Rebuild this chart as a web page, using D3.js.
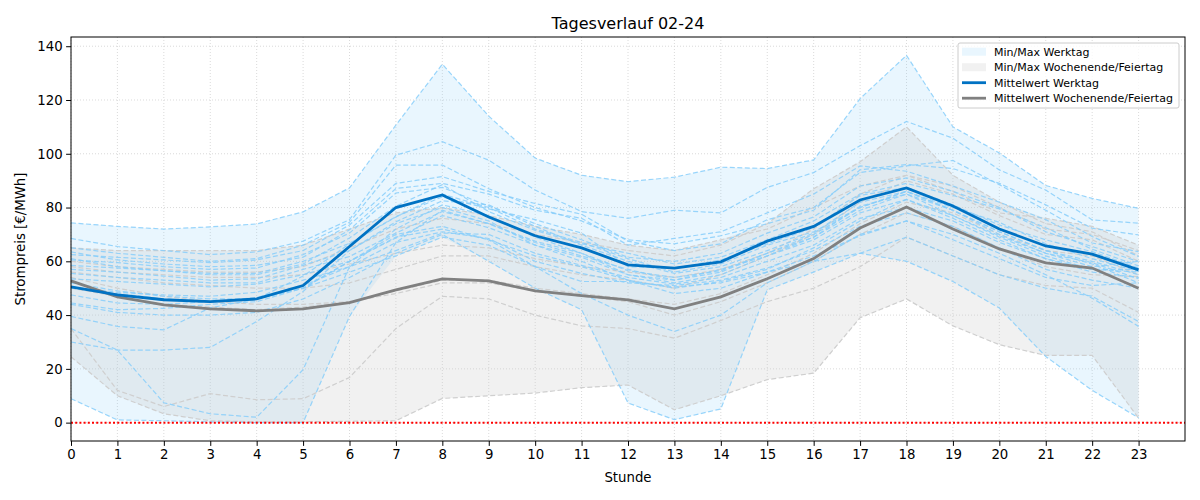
<!DOCTYPE html>
<html>
<head>
<meta charset="utf-8">
<script src="https://cdn.jsdelivr.net/npm/d3@7"></script>
<style>
  body { margin: 0; background: #fff; }
  svg { font-family: "DejaVu Sans", sans-serif; }
</style>
</head>
<body>
<div id="chart"></div>
<script>
// Stunden 0..23
const stunden = d3.range(24);

// Einzelne Werktage (Strompreis €/MWh je Stunde)
const werktage = [
  [74.3,73,72,72.8,73.9,78.4,87.3,110.7,133.3,114,98.4,92,89.6,91.3,95,94.5,97.7,120.5,136.6,110,100.3,88.2,83.4,79.7],
  [68.5,65.5,64,62.5,63.5,67.5,75.5,99.5,104.5,97.6,86.5,78.5,76,79,78,87.5,93,103,112,105.8,94,86.5,75.4,74.2],
  [65,63,61.5,60,61,66,74.5,95.8,95.8,87,80,75,68,66.5,69.5,74,79,94,96,94.5,89,81,72.3,69.8],
  [62.5,61.5,60.5,59.5,60.5,64,73.5,89,91.5,86,81.5,77.5,67.5,64,66.5,75.5,80,93,95.5,97.5,88.5,79,69.2,61.8],
  [63.5,60.5,59,58,58.5,61.5,71.7,87.1,89,85,79,76,66,68.5,71,78,85,95.5,93.5,88,82,75.5,66.8,63.6],
  [60.5,59.5,58,57,57.5,62.5,70.5,85.4,87.5,80.5,74,68,61.5,60,63,70.5,76.5,88,91,86,80,71,65.5,59.9],
  [61,58,56.5,55,55,59,68.7,80.5,88.5,78.5,71.5,66.5,63,59,61.5,68,75,85,89,84.5,79.5,72.5,64.5,58.3],
  [58.5,57.5,56.5,55.5,55.5,60,66.7,76.6,84,79.5,75.5,70.5,58,57.5,60.5,66.5,72.5,84.5,87.5,81,73.5,68,63.6,57.5],
  [57,56,54.5,53,53.5,58.5,64,74.7,82.5,81,73,66,60,55.5,58,64,70.5,82,86,80,74.5,66.5,61,56.2],
  [55.5,54,53,52,52,57,61.8,70.5,78.5,74,67.5,63,56.5,54,56.5,63,69,80.5,85,79,71,64,60,55],
  [53.5,52.5,51.5,50.5,51.5,55,60,68.7,77,72.5,66,61.5,55,53,57,62,68,78,83,77,69.5,63,59.5,53.5],
  [50.5,48.5,47.5,47,48.5,53,58,64,70.5,70,63,58.5,54,51.5,54,60,66,76,80,75,67,61,57,56],
  [47.5,44.5,44,45,46.5,51,58,67,71,68.5,60,55.5,52,51,53,57.5,64,73,78,73,65,57,53,50],
  [44.5,42,42.5,44,45,50,56,62,69,66,58,52.5,52.5,50.5,52,56,62,69.5,75,68,61,54,51,52],
  [39.5,35.8,34.5,42.7,46,54.5,66.5,76.5,85,80,72,67,61,56,59,66,71,80,86,79,71,64,59,52],
  [30,27,27,28,37.6,48.8,64,74,80,75,66,60,53,50,52.5,57,65,75,83,76,68,61,56,54],
  [35,27,7.4,3.3,2,19.7,58,72,81,77,69,63,55,52,55,62,69,79,85,77,69,62,57,57],
  [8.9,1,0.7,0.3,0,0,39.5,67,79,74,67,62,57,53,56,63,70,80,86,79,70,63,58,60],
  [44,41,40,40,41,46,54,63,70,60,50,42,7.3,1.1,5.1,49.4,56,63,69,62,55,50,47,37.6],
  [50,48,46,45,46,50,60,69,72,68,62,58,53,48,50,56,60,63,60,52.5,42.6,24.6,12,1.8],
  [52,49,47,46,46,50,60,70,73,68,58,48,40,33.9,40,52,60,70,75,70,63,55,46.3,35.8]
];

// Wochenenden / Feiertage
const wochenenden = [
  [24.5,10,3.3,0.7,0.3,0.3,0.5,0.7,9,10,11,13,14,4.8,10,16,18.4,39,46,36,29,25,25,1.7],
  [35,12,6,10.8,8.5,8.9,16.8,35,47,46,40,36,35,31.4,38,45,50,58,69,62,55,51,50,41],
  [60,58,57,56,56,58,65,72,76,74,70,67,64,62,66,74,87,97,110,92,82,74,71,62],
  [65,64,64,64,64,66,72,78,80,77,73,70,66,64,68,72,80,88,92,86,78,76,73,66],
  [58,56,55,54,54,55,59,63,66,65,61,58,56,54,57,63,72,85,92,88,80,72,70,64],
  [56,54,52,51,50,50,52,57,62,62,58,55,53,50,55,62,70,82,90,85,77,70,68,60],
  [54,50,47,45,44,44,45,49,53,53,50,48,46,44,48,55,63,74,82,78,70,64,62,55],
  [50,47,44,43,42,43,45,48,52,52,49,47,45,40,45,52,60,70,78,73,65,58,55,54.3]
];

// Mittelwerte
const mittelWerktag = [50.5,47.5,45.7,45,46,51,65.5,80,84.7,76.5,69.5,65,58.7,57.5,59.8,67.5,73,82.8,87.3,80.6,72,65.7,62.7,56.8];
const mittelWochenende = [52.7,46.8,43.8,42.3,41.6,42.3,44.6,49.4,53.5,52.7,49,47.2,45.7,42.3,46.8,53.5,61,72.4,80.2,72,64.6,59.4,57.5,50];

const yTicks = [0,20,40,60,80,100,120,140];
const legendLabels = ['Min/Max Werktag','Min/Max Wochenende/Feiertag','Mittelwert Werktag','Mittelwert Wochenende/Feiertag'];

const width = 1200, height = 500;
const margin = {top: 37, right: 15, bottom: 59, left: 71};

const svg = d3.select('#chart').append('svg')
    .attr('width', width)
    .attr('height', height);

// y-Bereich wie matplotlib (5% Rand)
const allVals = werktage.flat().concat(wochenenden.flat());
const dMin = Math.min(0, d3.min(allVals));
const dMax = d3.max(allVals);
const pad = (dMax - dMin) * 0.05;

const x = d3.scaleLinear().domain([0, 24]).range([margin.left, width - margin.right]);
const y = d3.scaleLinear().domain([dMin - pad, dMax + pad]).range([height - margin.bottom, margin.top]);

// Gitter
const grid = svg.append('g');
grid.selectAll('line.gx').data(stunden).enter().append('line')
    .attr('x1', d => x(d)).attr('x2', d => x(d))
    .attr('y1', margin.top).attr('y2', height - margin.bottom)
    .attr('stroke', '#d0d0d0').attr('stroke-width', 0.8).attr('stroke-dasharray', '1,2');
grid.selectAll('line.gy').data(yTicks).enter().append('line')
    .attr('x1', margin.left).attr('x2', width - margin.right)
    .attr('y1', d => y(d)).attr('y2', d => y(d))
    .attr('stroke', '#d0d0d0').attr('stroke-width', 0.8).attr('stroke-dasharray', '1,2');

const line = d3.line().x((d, i) => x(i)).y(d => y(d));

// Min/Max Bänder
const minMax = rows => stunden.map(h => ({
    lo: d3.min(rows, r => r[h]),
    hi: d3.max(rows, r => r[h])
}));
const area = d3.area().x((d, i) => x(i)).y0(d => y(d.lo)).y1(d => y(d.hi));

svg.append('path').datum(minMax(werktage))
    .attr('d', area).attr('fill', '#87cefa').attr('fill-opacity', 0.18);

svg.append('path').datum(minMax(wochenenden))
    .attr('d', area).attr('fill', '#c8c8c8').attr('fill-opacity', 0.25);

// einzelne Tage
svg.append('g').selectAll('path').data(wochenenden).enter().append('path')
    .attr('d', line).attr('fill', 'none')
    .attr('stroke', '#cfcfcf').attr('stroke-width', 1.2)
    .attr('stroke-dasharray', '5,2.5');

svg.append('g').selectAll('path').data(werktage).enter().append('path')
    .attr('d', line).attr('fill', 'none')
    .attr('stroke', '#87cefa').attr('stroke-opacity', 0.85).attr('stroke-width', 1.2)
    .attr('stroke-dasharray', '5,2.5');

// Nulllinie
svg.append('line')
    .attr('x1', margin.left).attr('x2', width - margin.right)
    .attr('y1', y(0)).attr('y2', y(0))
    .attr('stroke', 'red').attr('stroke-width', 2).attr('stroke-dasharray', '2,2.2');

// Mittelwerte
svg.append('path').datum(mittelWochenende)
    .attr('d', line).attr('fill', 'none')
    .attr('stroke', '#808080').attr('stroke-width', 2.8);
svg.append('path').datum(mittelWerktag)
    .attr('d', line).attr('fill', 'none')
    .attr('stroke', '#0072c3').attr('stroke-width', 2.8);

// Achsen
const xAxis = svg.append('g')
    .attr('transform', `translate(0,${height - margin.bottom})`)
    .call(d3.axisBottom(x).tickValues(stunden).tickFormat(d3.format('d')).tickSizeOuter(0).tickSize(4.9).tickPadding(3.5));
const yAxis = svg.append('g')
    .attr('transform', `translate(${margin.left},0)`)
    .call(d3.axisLeft(y).tickValues(yTicks).tickFormat(d3.format('d')).tickSizeOuter(0).tickSize(4.9).tickPadding(3.5));
[xAxis, yAxis].forEach(a => {
    a.select('.domain').remove();
    a.selectAll('text').attr('font-size', 13.3).attr('fill', '#000').attr('font-family', '"DejaVu Sans", sans-serif');
    a.selectAll('line').attr('stroke', '#000').attr('stroke-width', 1);
});

// Rahmen
svg.append('rect')
    .attr('x', margin.left).attr('y', margin.top)
    .attr('width', width - margin.left - margin.right)
    .attr('height', height - margin.top - margin.bottom)
    .attr('fill', 'none').attr('stroke', '#000').attr('stroke-width', 1);

// Titel und Beschriftungen
svg.append('text')
    .attr('x', (margin.left + width - margin.right) / 2).attr('y', 29)
    .attr('text-anchor', 'middle').attr('font-size', 16)
    .text('Tagesverlauf 02-24');
svg.append('text')
    .attr('x', (margin.left + width - margin.right) / 2).attr('y', 482)
    .attr('text-anchor', 'middle').attr('font-size', 13.3)
    .text('Stunde');
svg.append('text')
    .attr('transform', `translate(25,${(margin.top + height - margin.bottom) / 2}) rotate(-90)`)
    .attr('text-anchor', 'middle').attr('font-size', 13.3)
    .text('Strompreis [€/MWh]');

// Legende
const lg = svg.append('g').attr('transform', 'translate(958,43)');
lg.append('rect')
    .attr('width', 221).attr('height', 65).attr('rx', 2)
    .attr('fill', '#fff').attr('fill-opacity', 0.8)
    .attr('stroke', '#cccccc').attr('stroke-width', 1);
legendLabels.forEach((lab, i) => {
    const ry = 8.7 + i * 15.5;
    const row = lg.append('g').attr('transform', `translate(4,${ry})`);
    if (i < 2) {
        row.append('rect').attr('x', 0).attr('y', -4).attr('width', 24).attr('height', 8)
            .attr('fill', i === 0 ? '#87cefa' : '#c8c8c8')
            .attr('fill-opacity', i === 0 ? 0.18 : 0.25);
    } else {
        row.append('line').attr('x1', 0).attr('x2', 24).attr('y1', 0).attr('y2', 0)
            .attr('stroke', i === 2 ? '#0072c3' : '#808080').attr('stroke-width', 2.8);
    }
    row.append('text').attr('x', 32).attr('y', 4).attr('font-size', 11).text(lab);
});
</script>
</body>
</html>
